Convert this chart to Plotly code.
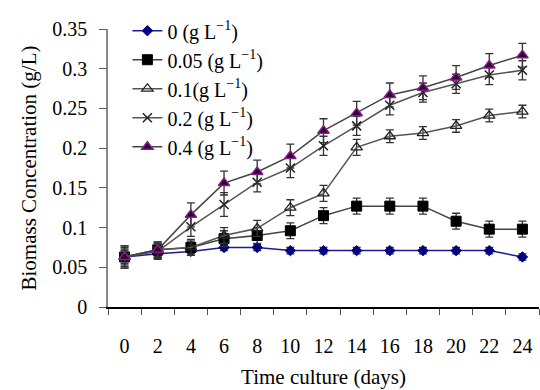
import plotly.graph_objects as go

days = ["0", "2", "4", "6", "8", "10", "12", "14", "16", "18", "20", "22", "24"]

c0 = [0.063, 0.067, 0.070, 0.075, 0.075, 0.071, 0.071, 0.071, 0.071, 0.071, 0.071, 0.071, 0.063]
c005 = [0.063, 0.072, 0.075, 0.086, 0.090, 0.096, 0.115, 0.127, 0.127, 0.127, 0.108, 0.098, 0.098]
c01 = [0.063, 0.072, 0.075, 0.090, 0.099, 0.125, 0.143, 0.201, 0.215, 0.219, 0.228, 0.241, 0.246]
c02 = [0.063, 0.070, 0.101, 0.129, 0.157, 0.175, 0.203, 0.228, 0.254, 0.270, 0.281, 0.292, 0.298]
c04 = [0.063, 0.072, 0.116, 0.156, 0.170, 0.190, 0.222, 0.244, 0.267, 0.276, 0.289, 0.304, 0.317]

e0 = [0.008, 0.006, 0.005, 0.004, 0.004, 0.004, 0.004, 0.004, 0.004, 0.004, 0.004, 0.004, 0.004]
e005 = [0.010, 0.008, 0.008, 0.010, 0.010, 0.010, 0.010, 0.010, 0.010, 0.010, 0.010, 0.010, 0.010]
e01 = [0.012, 0.010, 0.010, 0.010, 0.010, 0.010, 0.010, 0.010, 0.008, 0.008, 0.008, 0.008, 0.008]
e02 = [0.014, 0.010, 0.012, 0.015, 0.012, 0.012, 0.012, 0.012, 0.012, 0.012, 0.012, 0.012, 0.012]
e04 = [0.014, 0.010, 0.015, 0.015, 0.015, 0.015, 0.015, 0.015, 0.015, 0.015, 0.015, 0.015, 0.015]

names = ["0 (g L<sup>−1</sup>)", "0.05 (g L<sup>−1</sup>)", "0.1(g L<sup>−1</sup>)",
         "0.2 (g L<sup>−1</sup>)", "0.4 (g L<sup>−1</sup>)"]

FONT = "Liberation Serif, Times New Roman, serif"

series = [
    (c0, e0, dict(color="#1a1a9a", width=1.5),
     dict(symbol="diamond", size=8, color="#000080", line=dict(color="#000080", width=1))),
    (c005, e005, dict(color="#444444", width=1.5),
     dict(symbol="square", size=10, color="#000000", line=dict(color="#000000", width=1))),
    (c01, e01, dict(color="#555555", width=1.5),
     dict(symbol="triangle-up-open", size=10, color="#222222", line=dict(color="#222222", width=1.3))),
    (c02, e02, dict(color="#555555", width=1.5),
     dict(symbol="x-thin", size=9, color="#222222", line=dict(color="#222222", width=1.5))),
    (c04, e04, dict(color="#444444", width=1.5),
     dict(symbol="triangle-up", size=10, color="#2a0030", line=dict(color="#8a1a8a", width=1.5))),
]

fig = go.Figure()
for (vals, errs, ln, mk), nm in zip(series, names):
    fig.add_trace(go.Scatter(
        x=days, y=vals, name=nm, mode="lines+markers",
        line=ln, marker=mk,
        error_y=dict(type="data", array=errs, visible=True, color="#333333",
                     thickness=1.3, width=4),
    ))

fig.update_layout(
    width=540, height=390,
    margin=dict(l=108, r=1, t=29, b=83),
    paper_bgcolor="white", plot_bgcolor="white",
    font=dict(family=FONT, size=20, color="#000000"),
    showlegend=True,
    legend=dict(x=0.045, y=1.064, xanchor="left", yanchor="top",
                bgcolor="rgba(0,0,0,0)", font=dict(family=FONT, size=20),
                tracegroupgap=0, itemwidth=30),
    xaxis=dict(
        type="category", tickson="boundaries", range=[-0.5, 12.5],
        showline=True, linecolor="#000000", linewidth=1.5,
        ticks="outside", ticklen=6, tickcolor="#555555", tickwidth=1.3,
        showgrid=False, zeroline=False, ticklabelstandoff=20,
        tickfont=dict(family=FONT, size=20),
        title=dict(text="Time culture (days)", font=dict(family=FONT, size=21), standoff=14),
    ),
    yaxis=dict(
        range=[0, 0.35], tickvals=[0, 0.05, 0.1, 0.15, 0.2, 0.25, 0.3, 0.35],
        ticktext=["0", "0.05", "0.1", "0.15", "0.2", "0.25", "0.3", "0.35"],
        showline=True, linecolor="#888888", linewidth=1.5,
        ticks="outside", ticklen=7, tickcolor="#555555", tickwidth=1.3,
        showgrid=False, zeroline=False, ticklabelstandoff=8,
        tickfont=dict(family=FONT, size=20),
        title=dict(text="Biomass Concentration (g/L)", font=dict(family=FONT, size=21), standoff=10),
    ),
)

fig.write_html("out.html")
